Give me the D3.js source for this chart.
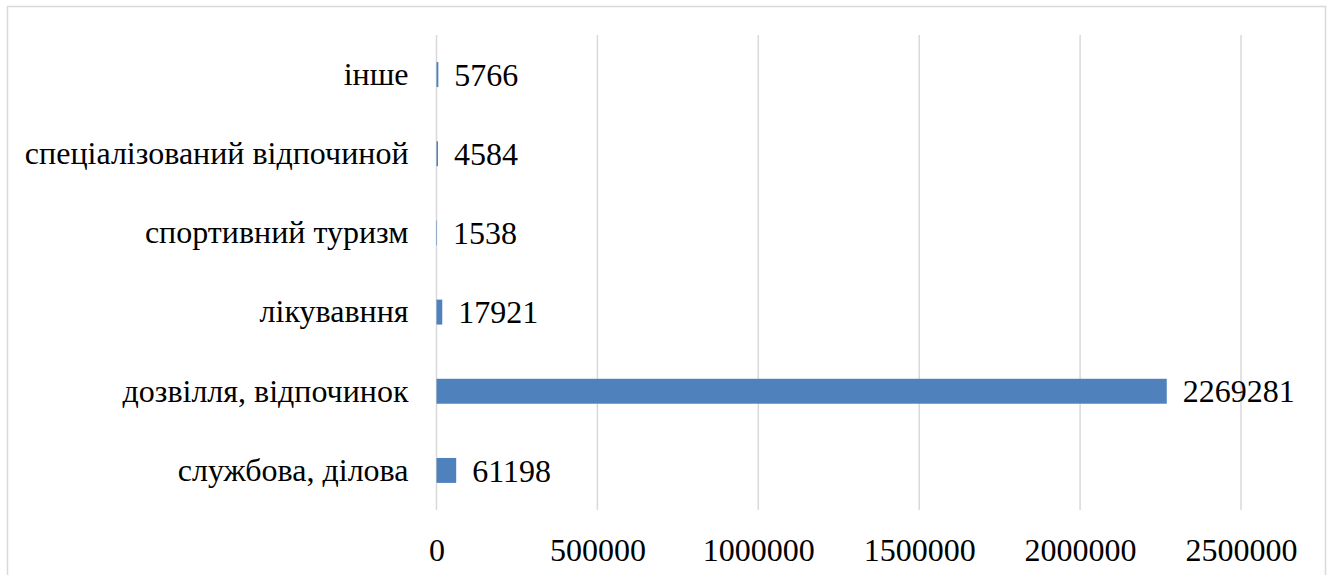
<!DOCTYPE html>
<html>
<head>
<meta charset="utf-8">
<script src="https://cdn.jsdelivr.net/npm/d3@7"></script>
<style>
  html, body { margin: 0; padding: 0; background: #fff; }
  svg { display: block; }
</style>
</head>
<body>
<svg id="chart" width="1330" height="575"></svg>
<script>
// Purposes of trips, bottom to top
const categories = [
  "службова, ділова",
  "дозвілля, відпочинок",
  "лікувавння",
  "спортивний туризм",
  "спеціалізований відпочиной",
  "інше"
];
const values = [61198, 2269281, 17921, 1538, 4584, 5766];
const tickValues = [0, 500000, 1000000, 1500000, 2000000, 2500000];

const svg = d3.select("#chart");
const plot = { left: 436.5, right: 1241, top: 35, bottom: 510 };
const FONT = '"Liberation Serif", "Times New Roman", serif';
const fontSize = "32px";

// outer frame
svg.append("rect")
  .attr("x", 7.5).attr("y", 6.5)
  .attr("width", 1318).attr("height", 620)
  .attr("fill", "#fff")
  .attr("stroke", "#d9d9d9").attr("stroke-width", 1.5);

const x = d3.scaleLinear().domain([0, 2500000]).range([plot.left, plot.right]);
const y = d3.scaleBand()
  .domain(categories.slice().reverse())
  .range([plot.top, plot.bottom])
  .paddingInner(0.685)
  .paddingOuter(0.685 / 2);

// vertical gridlines
svg.append("g").selectAll("line")
  .data(tickValues)
  .join("line")
  .attr("x1", d => x(d)).attr("x2", d => x(d))
  .attr("y1", plot.top).attr("y2", plot.bottom)
  .attr("stroke", "#d9d9d9").attr("stroke-width", 1.5);

// x axis labels
const xAxis = d3.axisBottom(x).tickValues(tickValues).tickSize(0).tickPadding(0)
  .tickFormat(d3.format("d"));
const gx = svg.append("g").attr("transform", `translate(0,${plot.bottom + 28})`).call(xAxis);
gx.select(".domain").remove();
gx.selectAll("text")
  .style("font-family", FONT)
  .style("font-size", fontSize)
  .attr("fill", "#000");

// category labels
const yAxis = d3.axisLeft(y).tickSize(0).tickPadding(28);
const gy = svg.append("g").attr("transform", `translate(${plot.left},0)`).call(yAxis);
gy.select(".domain").remove();
gy.selectAll("text")
  .style("font-family", FONT)
  .style("font-size", fontSize)
  .attr("fill", "#000");

// bars
svg.append("g").selectAll("rect")
  .data(categories)
  .join("rect")
  .attr("x", x(0))
  .attr("y", d => y(d))
  .attr("width", (d, i) => x(values[i]) - x(0))
  .attr("height", y.bandwidth())
  .attr("fill", "#4f81bd");

// value labels
svg.append("g").selectAll("text")
  .data(categories)
  .join("text")
  .attr("x", (d, i) => x(values[i]) + 16)
  .attr("y", d => y(d) + y.bandwidth() / 2)
  .attr("dy", "0.35em")
  .style("font-family", FONT)
  .style("font-size", fontSize)
  .attr("fill", "#000")
  .text((d, i) => values[i]);
</script>
</body>
</html>
